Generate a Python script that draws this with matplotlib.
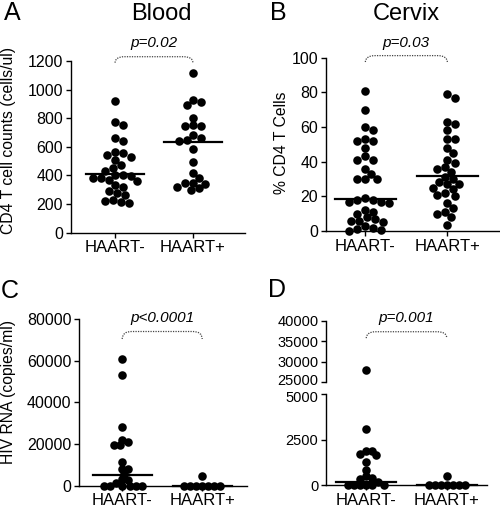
import numpy as np
import matplotlib.pyplot as plt
from matplotlib.path import Path
from matplotlib.patches import PathPatch
import matplotlib.transforms as mtransforms

plt.rcParams['font.family'] = ['Liberation Sans', 'DejaVu Sans']

W, H = 500, 507

groups = ["HAART-", "HAART+"]

# A: blood CD4 counts (cells/ul)
blood_neg = [920, 775, 755, 665, 640, 565, 555, 545, 530, 505, 470, 455, 430,
             405, 400, 395, 385, 380, 365, 360, 330, 320, 290, 275, 260, 230,
             225, 215, 205]
blood_pos = [1115, 930, 915, 890, 800, 750, 745, 745, 680, 665, 645, 640, 585,
             495, 415, 380, 350, 345, 340, 320, 310, 295]
blood_med = [410, 635]

# B: cervix % CD4 T cells
cervix_neg = [81, 70, 60, 58, 53, 52, 52, 48, 43, 41, 41, 36, 33, 30, 30, 30,
              19, 18, 18, 17, 17, 16, 12, 11, 10, 8, 7, 6, 6, 5, 3, 2, 1, 0.5, 0]
cervix_pos = [79, 77, 63, 62, 58, 53, 53, 48, 45, 41, 39, 37, 36, 34, 31, 30,
              28, 27, 27, 25, 24, 22, 21, 20, 16, 13, 11, 10, 8, 3.5]
cervix_med = [18.5, 31.5]

# C: plasma HIV RNA (copies/ml)
rna_neg = [61000, 53000, 28000, 22000, 21000, 19500, 19500, 11500, 8000, 7800,
           5500, 3000, 2500, 1500, 0, 0, 0, 0, 0, 0]
rna_pos = [4500, 0, 0, 0, 0, 0, 0, 0]
rna_med = [5000, 0]

# D: cervical HIV RNA (copies/ml), broken axis
crna_neg = [28000, 3100, 1900, 1900, 1700, 1650, 1300, 850, 500, 400, 350, 200,
            0, 0, 0, 0, 0, 0]
crna_pos = [500, 0, 0, 0, 0, 0, 0, 0]
crna_med = [200, 0]

fig = plt.figure(figsize=(W / 100, H / 100), dpi=100)


def px_rect(left, top, right, bottom):
    return [left / W, (H - bottom) / H, (right - left) / W, (bottom - top) / H]


def style(ax, xlim, ylim, ysize=11.5):
    ax.set_xlim(*xlim)
    ax.set_ylim(*ylim)
    for s in ['top', 'right']:
        ax.spines[s].set_visible(False)
    for s in ['left', 'bottom']:
        ax.spines[s].set_linewidth(1.0)
    ax.tick_params(direction='out', length=3.5, width=1.0, labelsize=ysize, pad=2)
    ax.tick_params(axis='x', labelsize=12)
    ax.set_xticks([0, 1])
    ax.set_xticklabels(groups)


def swarm(ax, vals, d=6.0, step=2.0):
    # simple beeswarm in pixel space
    bb = ax.get_position()
    hpx, wpx = bb.height * H, bb.width * W
    y0, y1 = ax.get_ylim()
    x0, x1 = ax.get_xlim()
    unit = wpx / (x1 - x0)
    vals = np.asarray(vals, dtype=float)
    offs = np.zeros(len(vals))
    placed = []
    for i in np.argsort(-vals, kind='stable'):
        y = (vals[i] - y0) / (y1 - y0) * hpx
        for k in range(200):
            off = ((k + 1) // 2) * step * (1 if k % 2 else -1)
            if all((off - px) ** 2 + (y - py) ** 2 >= d * d for px, py in placed):
                break
        placed.append((off, y))
        offs[i] = off / unit
    return offs


def dots(ax, pos, vals, d=7.0):
    vals = np.asarray(vals, dtype=float)
    ax.scatter(pos + swarm(ax, vals, d=d), vals, s=38, color='black', linewidths=0,
               clip_on=False, zorder=3)


def median(ax, pos, m):
    ax.plot([pos - 0.37, pos + 0.37], [m, m], color='black', lw=1.6, zorder=4,
            clip_on=False)


def bracket(ax, ylow, ytop, ptxt, ytxt):
    tr = mtransforms.blended_transform_factory(ax.transData, ax.transAxes)
    verts = [(0, ylow), (0, ytop), (0.12, ytop), (0.88, ytop), (1, ytop), (1, ylow)]
    codes = [Path.MOVETO, Path.CURVE3, Path.CURVE3, Path.LINETO, Path.CURVE3, Path.CURVE3]
    ax.add_patch(PathPatch(Path(verts, codes), transform=tr, fill=False,
                           linestyle=(0, (1, 1)), lw=0.9, edgecolor='#444444',
                           clip_on=False))
    ax.text(0.5, ytxt, ptxt, transform=tr, ha='center', va='center',
            fontstyle='italic', fontsize=11)


# A
axA = fig.add_axes(px_rect(70.7, 61, 245, 232.7))
style(axA, (-0.57, 1.67), (0, 1200))
axA.set_yticks(range(0, 1201, 200))
dots(axA, 0, blood_neg)
dots(axA, 1, blood_pos)
for i, m in enumerate(blood_med):
    median(axA, i, m)
bracket(axA, 0.99, 1.025, 'p=0.02', 1.105)

# B
axB = fig.add_axes(px_rect(326, 57.7, 499, 231))
style(axB, (-0.48, 1.63), (0, 100))
axB.set_yticks(range(0, 101, 20))
dots(axB, 0, cervix_neg)
dots(axB, 1, cervix_pos)
for i, m in enumerate(cervix_med):
    median(axB, i, m)
bracket(axB, 0.975, 1.012, 'p=0.03', 1.083)

# C
axC = fig.add_axes(px_rect(79, 319, 247, 485.7))
style(axC, (-0.54, 1.56), (0, 80000))
axC.set_yticks(range(0, 80001, 20000))
dots(axC, 0, rna_neg, d=5.5)
dots(axC, 1, rna_pos, d=5.5)
for i, m in enumerate(rna_med):
    median(axC, i, m)
bracket(axC, 0.88, 0.925, 'p<0.0001', 1.004)

# D (broken y axis)
axDt = fig.add_axes(px_rect(326, 321, 487, 382.3))
axDb = fig.add_axes(px_rect(326, 394, 487, 485.3))
style(axDt, (-0.5, 1.5), (25000, 40000), ysize=10.5)
style(axDb, (-0.5, 1.5), (0, 5000), ysize=10.5)
axDt.set_yticks(range(25000, 40001, 5000))
axDb.set_yticks([0, 2500, 5000])
axDt.spines['bottom'].set_visible(False)
axDt.tick_params(axis='x', bottom=False, labelbottom=False)
lab_top = axDt.get_yticklabels()[0]
lab_top.set_transform(lab_top.get_transform() +
                      mtransforms.ScaledTranslation(0, 2.5 / 100, fig.dpi_scale_trans))
lab_bot = axDb.get_yticklabels()[-1]
lab_bot.set_transform(lab_bot.get_transform() +
                      mtransforms.ScaledTranslation(0, -2.5 / 100, fig.dpi_scale_trans))
neg = np.array(crna_neg)
dots(axDt, 0, neg[neg > 5000])
dots(axDb, 0, neg[neg <= 5000], d=5.5)
dots(axDb, 1, crna_pos, d=5.5)
for i, m in enumerate(crna_med):
    median(axDb, i, m)
bracket(axDt, 0.72, 0.825, 'p=0.001', 1.044)

# labels
fig.text(9 / W, 1 - 140 / H, 'CD4 T cell counts (cells/ul)', rotation=90,
         ha='center', va='center', fontsize=11.3)
fig.text(282 / W, 1 - 143 / H, '% CD4 T Cells', rotation=90,
         ha='center', va='center', fontsize=11.3)
fig.text(9 / W, 1 - 392 / H, 'HIV RNA (copies/ml)', rotation=90,
         ha='center', va='center', fontsize=11.3)

fig.text(161.7 / W, 1 - 13.5 / H, 'Blood', ha='center', va='center', fontsize=17)
fig.text(406.7 / W, 1 - 13.5 / H, 'Cervix', ha='center', va='center', fontsize=17)
for letter, x, y in [('A', 12.5, 13.5), ('B', 278.5, 13.5), ('C', 10, 291), ('D', 277.5, 290)]:
    fig.text(x / W, 1 - y / H, letter, ha='center', va='center', fontsize=18)

fig.savefig('out.png', dpi=100)
